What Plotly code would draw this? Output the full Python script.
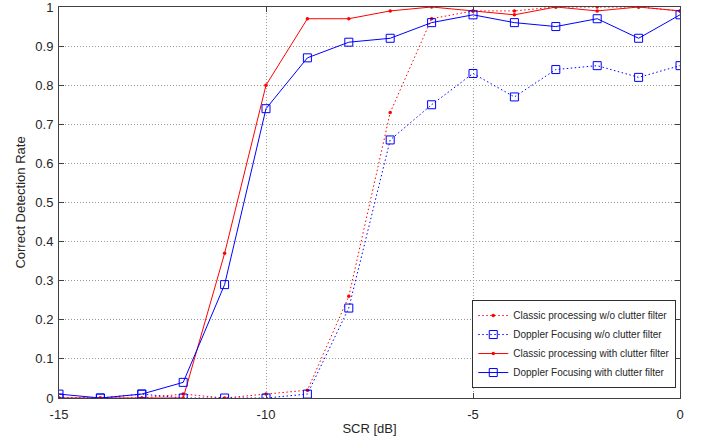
import plotly.graph_objects as go

scr = [-15, -14, -13, -12, -11, -10, -9, -8, -7, -6, -5, -4, -3, -2, -1, 0]
classic_wo = [0.0, 0.0, 0.0, 0.01, 0.0, 0.01, 0.02, 0.26, 0.73, 0.97, 0.99, 0.99, 1.0, 1.0, 1.0, 0.99]
doppler_wo = [0.0, 0.0, 0.01, 0.0, 0.0, 0.0, 0.01, 0.23, 0.66, 0.75, 0.83, 0.77, 0.84, 0.85, 0.82, 0.85]
classic_w = [0.0, 0.0, 0.0, 0.0, 0.37, 0.80, 0.97, 0.97, 0.99, 1.0, 0.99, 0.98, 1.0, 0.99, 1.0, 0.99]
doppler_w = [0.01, 0.0, 0.01, 0.04, 0.29, 0.74, 0.87, 0.91, 0.92, 0.96, 0.98, 0.96, 0.95, 0.97, 0.92, 0.98]

x_ticks = [-15, -10, -5, 0]
x_labels = ["-15", "-10", "-5", "0"]
y_ticks = [0, 0.1, 0.2, 0.3, 0.4, 0.5, 0.6, 0.7, 0.8, 0.9, 1]
y_labels = ["0", "0.1", "0.2", "0.3", "0.4", "0.5", "0.6", "0.7", "0.8", "0.9", "1"]

names = ["Classic processing w/o clutter filter", "Doppler Focusing w/o clutter filter",
         "Classic processing with clutter filter", "Doppler Focusing with clutter filter"]

RED = "#ff0000"
BLUE = "#0000ff"
DOT = "1.5px,2.5px"

fig = go.Figure()
fig.add_trace(go.Scatter(x=scr, y=classic_wo, name=names[0], mode="lines+markers",
                         line=dict(color=RED, width=1, dash=DOT),
                         marker=dict(symbol="circle", size=3.5, color=RED)))
fig.add_trace(go.Scatter(x=scr, y=doppler_wo, name=names[1], mode="lines+markers",
                         line=dict(color=BLUE, width=1, dash=DOT),
                         marker=dict(symbol="square-open", size=8, color=BLUE, line=dict(width=1))))
fig.add_trace(go.Scatter(x=scr, y=classic_w, name=names[2], mode="lines+markers",
                         line=dict(color=RED, width=1),
                         marker=dict(symbol="circle", size=3.5, color=RED)))
fig.add_trace(go.Scatter(x=scr, y=doppler_w, name=names[3], mode="lines+markers",
                         line=dict(color=BLUE, width=1),
                         marker=dict(symbol="square-open", size=8, color=BLUE, line=dict(width=1))))

TXT = "#262626"
axis_common = dict(showline=True, linecolor="#404040", linewidth=1, mirror="ticks",
                   ticks="inside", ticklen=5, tickcolor="#404040",
                   showgrid=True, gridcolor="#9a9a9a", griddash="1px,2px", gridwidth=1,
                   zeroline=False, automargin=False, ticklabeloverflow="allow",
                   tickfont=dict(size=13, color=TXT))

fig.update_xaxes(range=[-15, 0], tickvals=x_ticks, ticktext=x_labels, ticklabelstandoff=4,
                 title=dict(text="SCR [dB]", font=dict(size=13, color=TXT), standoff=4),
                 **axis_common)
fig.update_yaxes(range=[0, 1], tickvals=y_ticks, ticktext=y_labels, ticklabelstandoff=2,
                 title=dict(text="Correct Detection Rate", font=dict(size=13, color=TXT), standoff=6),
                 **axis_common)

fig.update_layout(
    width=703, height=436,
    margin=dict(l=59, r=23, t=7, b=38),
    paper_bgcolor="white", plot_bgcolor="white",
    font=dict(family="Liberation Sans, Arial, sans-serif", size=13, color=TXT),
    legend=dict(x=0.994, y=0.138, xanchor="right", yanchor="middle",
                bgcolor="white", bordercolor="#303030", borderwidth=1,
                font=dict(size=10, color=TXT), tracegroupgap=0,
                itemwidth=30),
)

fig.write_html("out.html", config={"displayModeBar": False},
               post_script="document.body.style.margin='0';")
